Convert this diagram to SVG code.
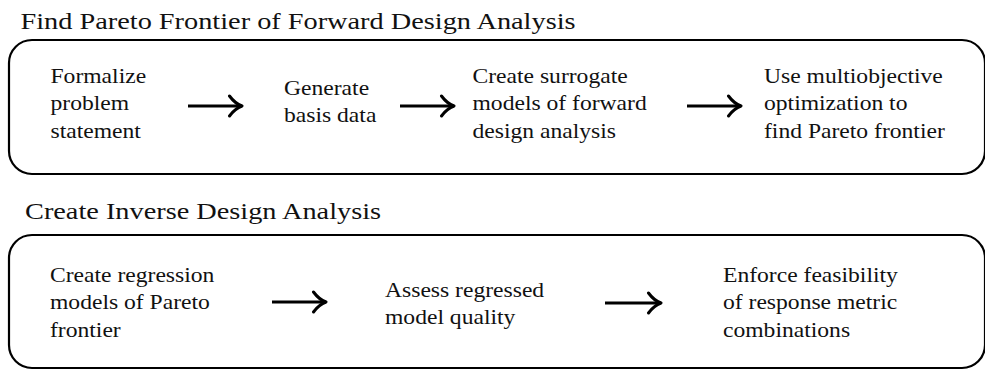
<svg xmlns="http://www.w3.org/2000/svg" width="985" height="370" viewBox="0 0 985 370">
  <style>
    .panel { fill: #ffffff; stroke: #000000; stroke-width: 2.2; }
    .title { font-family: "Liberation Serif", "DejaVu Serif", serif; font-size: 24px; fill: #111111; }
    .label { font-family: "Liberation Serif", "DejaVu Serif", serif; font-size: 20px; fill: #111111; }
    .flow { stroke: #000000; stroke-width: 2.8; fill: none; }
  </style>
  <defs>
    <marker id="head" markerUnits="userSpaceOnUse" markerWidth="20" markerHeight="26" refX="15" refY="12" orient="auto">
      <path d="M2.5,2 Q8,9.5 15,12 Q8,14.5 2.5,22" fill="none" stroke="#000000" stroke-width="3" stroke-linecap="round" stroke-linejoin="round"/>
    </marker>
  </defs>
  <rect width="985" height="370" fill="#ffffff"/>

  <!-- stage 1 panel -->
  <g id="stage-forward">
    <text class="title" font-family="Liberation Serif, DejaVu Serif, serif" transform="translate(20.5,28.5) scale(1.18,1)">Find Pareto Frontier of Forward Design Analysis</text>
    <rect class="panel" x="9" y="40" width="976" height="134" rx="23" ry="23"/>
  </g>

  <!-- stage 2 panel -->
  <g id="stage-inverse">
    <text class="title" font-family="Liberation Serif, DejaVu Serif, serif" transform="translate(25,218.5) scale(1.18,1)">Create Inverse Design Analysis</text>
    <rect class="panel" x="9" y="235" width="976" height="133" rx="23" ry="23"/>
  </g>

  <!-- steps of stage 1 -->
  <g id="formalize">
    <text class="label" transform="translate(50.5,82.5) scale(1.18,1)"><tspan x="0" y="0">Formalize</tspan><tspan x="0" y="28">problem</tspan><tspan x="0" y="56">statement</tspan></text>
  </g>
  <g id="generate">
    <text class="label" transform="translate(284,94.5) scale(1.18,1)"><tspan x="0" y="0">Generate</tspan><tspan x="0" y="28">basis data</tspan></text>
  </g>
  <g id="surrogate">
    <text class="label" transform="translate(472.5,82.5) scale(1.18,1)"><tspan x="0" y="0">Create surrogate</tspan><tspan x="0" y="28">models of forward</tspan><tspan x="0" y="56">design analysis</tspan></text>
  </g>
  <g id="optimize">
    <text class="label" transform="translate(764,82.5) scale(1.18,1)"><tspan x="0" y="0">Use multiobjective</tspan><tspan x="0" y="28">optimization to</tspan><tspan x="0" y="56">find Pareto frontier</tspan></text>
  </g>

  <!-- steps of stage 2 -->
  <g id="regression">
    <text class="label" transform="translate(50,281.5) scale(1.18,1)"><tspan x="0" y="0">Create regression</tspan><tspan x="0" y="28">models of Pareto</tspan><tspan x="0" y="56">frontier</tspan></text>
  </g>
  <g id="assess">
    <text class="label" transform="translate(385,296.5) scale(1.18,1)"><tspan x="0" y="0">Assess regressed</tspan><tspan x="0" y="28">model quality</tspan></text>
  </g>
  <g id="enforce">
    <text class="label" transform="translate(723,281.5) scale(1.18,1)"><tspan x="0" y="0">Enforce feasibility</tspan><tspan x="0" y="28">of response metric</tspan><tspan x="0" y="56">combinations</tspan></text>
  </g>

  <!-- connectors -->
  <g id="connectors">
    <line class="flow" x1="188" y1="106" x2="242" y2="106" marker-end="url(#head)"/>
    <line class="flow" x1="400" y1="106" x2="454" y2="106" marker-end="url(#head)"/>
    <line class="flow" x1="687" y1="106" x2="741" y2="106" marker-end="url(#head)"/>
    <line class="flow" x1="272" y1="302" x2="326" y2="302" marker-end="url(#head)"/>
    <line class="flow" x1="605" y1="303" x2="661" y2="303" marker-end="url(#head)"/>
  </g>
</svg>
